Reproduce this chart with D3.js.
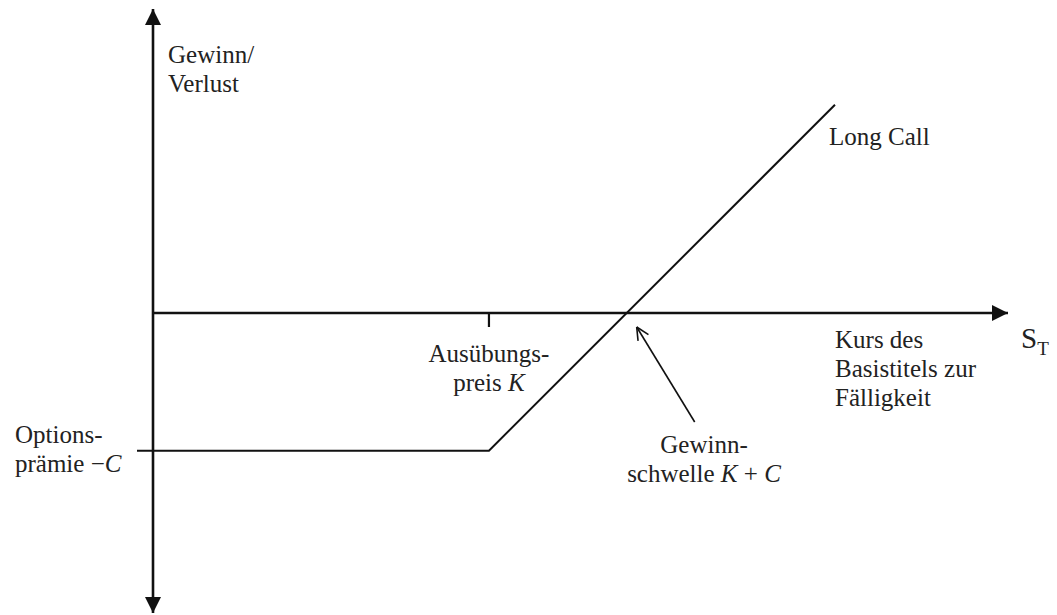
<!DOCTYPE html>
<html>
<head>
<meta charset="utf-8">
<script src="https://cdn.jsdelivr.net/npm/d3@7"></script>
<style>
  body { margin: 0; background: #fff; }
  text { font-family: "Liberation Serif", "Times New Roman", serif; fill: #222; }
</style>
</head>
<body>
<div id="chartDiv"></div>
<script>
// payoff data of a long call (strike K, premium C)
var strike = 100,
    premium = 41;
var priceAtExpiry = [0, strike, 203];
var profitLoss = [-premium, -premium, 203 - strike - premium];
var breakEven = strike + premium;

var xDomain = [0, 254.5],
    yDomain = [-89.3, 90.5];

var width = 1057, height = 615;

var svg = d3.select("#chartDiv")
  .append("svg")
    .attr("width", width)
    .attr("height", height);

var xScale = d3.scaleLinear().domain(xDomain).range([153, 1008]);
var yScale = d3.scaleLinear().domain(yDomain).range([613, 9]);

// arrow heads for the axes
var defs = svg.append("defs");
defs.append("marker")
    .attr("id", "axisArrow")
    .attr("markerUnits", "userSpaceOnUse")
    .attr("viewBox", "0 0 16 16")
    .attr("refX", 16).attr("refY", 8)
    .attr("markerWidth", 16).attr("markerHeight", 16)
    .attr("orient", "auto-start-reverse")
  .append("path")
    .attr("d", "M0,0 L16,8 L0,16 Z")
    .attr("fill", "#111");

// y axis (both directions)
svg.append("line")
    .attr("x1", xScale(0)).attr("x2", xScale(0))
    .attr("y1", yScale(yDomain[0])).attr("y2", yScale(yDomain[1]))
    .attr("stroke", "#111").attr("stroke-width", 2.6)
    .attr("marker-start", "url(#axisArrow)")
    .attr("marker-end", "url(#axisArrow)");

// x axis
svg.append("line")
    .attr("x1", xScale(0)).attr("x2", xScale(xDomain[1]))
    .attr("y1", yScale(0)).attr("y2", yScale(0))
    .attr("stroke", "#111").attr("stroke-width", 2.6)
    .attr("marker-end", "url(#axisArrow)");

// tick at strike K
svg.append("line")
    .attr("x1", xScale(strike)).attr("x2", xScale(strike))
    .attr("y1", yScale(0)).attr("y2", yScale(0) + 14)
    .attr("stroke", "#111").attr("stroke-width", 2.2);

// tick at premium -C
svg.append("line")
    .attr("x1", xScale(0) - 16).attr("x2", xScale(0))
    .attr("y1", yScale(-premium)).attr("y2", yScale(-premium))
    .attr("stroke", "#111").attr("stroke-width", 2);

// payoff line
var line = d3.line()
    .x(function(d, i) { return xScale(priceAtExpiry[i]); })
    .y(function(d) { return yScale(d); });

svg.append("path")
    .datum(profitLoss)
    .attr("d", line)
    .attr("fill", "none")
    .attr("stroke", "#111")
    .attr("stroke-width", 2);

// pointer to break-even
var tipX = xScale(breakEven) + 10, tipY = yScale(0) + 14;
var tailX = tipX + 58, tailY = tipY + 95;
svg.append("line")
    .attr("x1", tailX).attr("y1", tailY)
    .attr("x2", tipX).attr("y2", tipY)
    .attr("stroke", "#111").attr("stroke-width", 1.6);
var ang = Math.atan2(tailY - tipY, tailX - tipX);
[-0.45, 0.45].forEach(function(a) {
  svg.append("line")
      .attr("x1", tipX).attr("y1", tipY)
      .attr("x2", tipX + 14 * Math.cos(ang + a))
      .attr("y2", tipY + 14 * Math.sin(ang + a))
      .attr("stroke", "#111").attr("stroke-width", 1.6);
});

// labels
function addLabel(x, y, lines, anchor) {
  var t = svg.append("text")
      .attr("x", x).attr("y", y)
      .attr("font-size", 25)
      .attr("text-anchor", anchor || "start");
  lines.forEach(function(parts, i) {
    var first = true;
    parts.forEach(function(p) {
      var ts = t.append("tspan").text(p[0]);
      if (first) { ts.attr("x", x).attr("dy", i === 0 ? 0 : 29); first = false; }
      if (p[1]) ts.attr("font-style", "italic");
    });
  });
}

addLabel(168, 63, [[["Gewinn/"]], [["Verlust"]]]);
addLabel(829, 145, [[["Long Call"]]]);
addLabel(835, 348, [[["Kurs des"]], [["Basistitels zur"]], [["Fälligkeit"]]]);
addLabel(xScale(strike), 362, [[["Ausübungs-"]], [["preis "], ["K", true]]], "middle");
addLabel(15, 443, [[["Options-"]], [["prämie −"], ["C", true]]]);
addLabel(704, 453, [[["Gewinn-"]], [["schwelle "], ["K", true], [" + "], ["C", true]]], "middle");

// S_T
var st = svg.append("text").attr("x", 1021).attr("y", 348).attr("font-size", 29);
st.append("tspan").text("S");
st.append("tspan").attr("font-size", 19).attr("dy", 7).text("T");
</script>
</body>
</html>
